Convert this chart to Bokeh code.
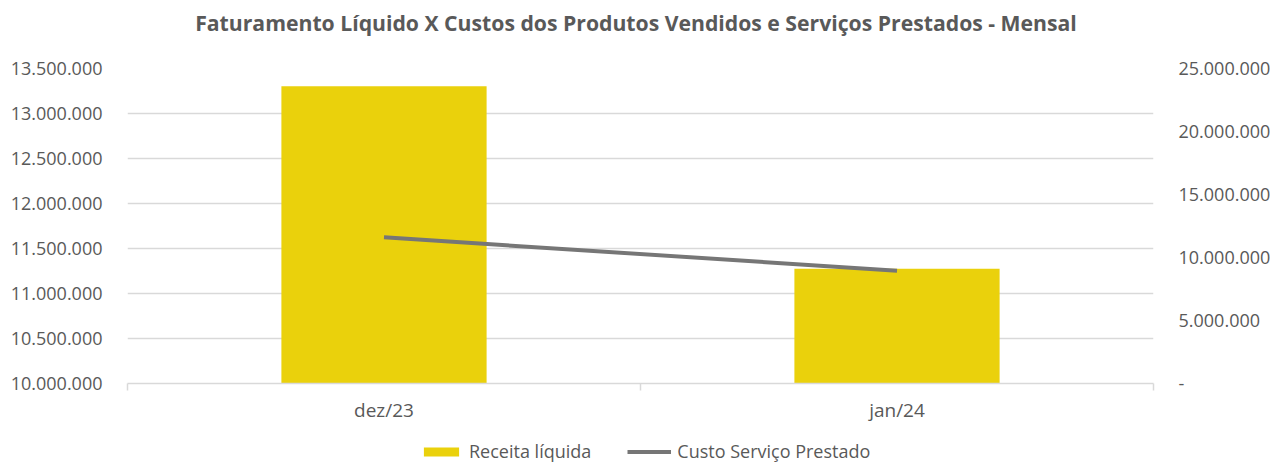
from bokeh.plotting import figure
from bokeh.layouts import column
from bokeh.models import (Range1d, LinearAxis, FixedTicker, CustomJSTickFormatter,
                          ColumnDataSource, Legend, LegendItem, Label)
from bokeh.embed import file_html
from bokeh.resources import INLINE

categories = ["dez/23", "jan/24"]
receita_liquida = [13303000, 11275000]
custo_servico = [11600000, 8950000]
left_ticks = [10000000, 10500000, 11000000, 11500000, 12000000, 12500000, 13000000, 13500000]
right_ticks = [0, 5000000, 10000000, 15000000, 20000000, 25000000]
series_names = ["Receita líquida", "Custo Serviço Prestado"]
title_text = "Faturamento  Líquido X Custos dos Produtos Vendidos e Serviços Prestados  - Mensal"

FONT = "Open Sans"
TXT = "#595959"
BAR_COLOR = "#EAD10C"
LINE_COLOR = "#767676"
W = 1275
BL, BR = 127, 122
FW, FH = W - BL - BR, 315
TITLE_H, LEG_H = 45, 28


def bare_figure(height):
    # strips share the chart's left/right borders (column aligns them)
    f = figure(width=W, height=height, output_backend="svg", toolbar_location=None,
               x_range=Range1d(0, FW), y_range=Range1d(0, height),
               x_axis_type=None, y_axis_type=None, min_border=0,
               min_border_left=BL, min_border_right=BR,
               outline_line_color=None)
    f.grid.visible = False
    return f


# ---- title strip
tf = bare_figure(TITLE_H)
tf.add_layout(Label(x=FW / 2 + 1, y=TITLE_H / 2 + 1, text=title_text,
                    text_align="center", text_baseline="middle",
                    text_font=FONT, text_font_size="21.2px", text_font_style="bold",
                    text_color=TXT))

# ---- main chart
xs = list(range(len(categories)))
src = ColumnDataSource(dict(x=xs, receita=receita_liquida, custo=custo_servico))

p = figure(frame_width=FW, frame_height=FH, output_backend="svg", toolbar_location=None,
           x_range=Range1d(-0.5, len(categories) - 0.5),
           y_range=Range1d(left_ticks[0], left_ticks[-1]),
           min_border_left=BL, min_border_right=BR, min_border_top=68 - TITLE_H,
           min_border_bottom=53, outline_line_color=None)
p.extra_y_ranges = {"r": Range1d(right_ticks[0], right_ticks[-1])}

fmt = CustomJSTickFormatter(code="""
if (tick == 0) { return '-'; }
return Math.round(tick).toString().replace(/\\B(?=(\\d{3})+(?!\\d))/g, '.');
""")

p.vbar(x="x", top="receita", bottom=left_ticks[0], width=0.4, source=src,
       fill_color=BAR_COLOR, line_color=None)
p.line(x="x", y="custo", source=src, y_range_name="r",
       line_color=LINE_COLOR, line_width=4)

ya = p.yaxis[0]
ya.ticker = FixedTicker(ticks=left_ticks)
ya.formatter = fmt
ya.axis_line_color = None
ya.major_tick_line_color = None
ya.minor_tick_line_color = None
ya.major_tick_out = 0
ya.minor_tick_out = 0
ya.major_label_text_font = FONT
ya.major_label_text_font_size = "18px"
ya.major_label_text_color = TXT
ya.major_label_standoff = 25

ra = LinearAxis(y_range_name="r", ticker=FixedTicker(ticks=right_ticks), formatter=fmt)
ra.axis_line_color = None
ra.major_tick_line_color = None
ra.minor_tick_line_color = None
ra.major_tick_out = 0
ra.minor_tick_out = 0
ra.major_label_text_font = FONT
ra.major_label_text_font_size = "18px"
ra.major_label_text_color = TXT
ra.major_label_standoff = 25
p.add_layout(ra, "right")

xa = p.xaxis[0]
xa.ticker = FixedTicker(ticks=xs, minor_ticks=[i - 0.5 for i in range(len(categories) + 1)])
xa.major_label_overrides = {i: c for i, c in enumerate(categories)}
xa.axis_line_color = "#d9d9d9"
xa.axis_line_width = 1.5
xa.major_tick_line_color = None
xa.minor_tick_line_color = "#d9d9d9"
xa.minor_tick_line_width = 1.5
xa.minor_tick_out = 7
xa.minor_tick_in = 0
xa.major_label_text_font = FONT
xa.major_label_text_font_size = "19px"
xa.major_label_text_color = TXT
xa.major_label_standoff = 6

p.xgrid.grid_line_color = None
p.ygrid.grid_line_color = "#d9d9d9"
p.ygrid.grid_line_width = 1.5

# ---- legend strip (proxy glyphs with no drawable data, only for the legend)
lf = bare_figure(LEG_H)
nan = float("nan")
proxy = ColumnDataSource(dict(x=[nan], y=[nan]))
lbar = lf.vbar(x="x", top="y", width=1, source=proxy, fill_color=BAR_COLOR, line_color=None)
lline = lf.line(x="x", y="y", source=proxy, line_color=LINE_COLOR, line_width=4)
legend = Legend(items=[LegendItem(label=series_names[0], renderers=[lbar]),
                       LegendItem(label=series_names[1], renderers=[lline])],
                orientation="horizontal", location=(419 - BL, 1),
                label_text_font=FONT, label_text_font_size="18px", label_text_color=TXT,
                glyph_width=44, glyph_height=11, spacing=36, padding=0, margin=0,
                label_standoff=6, border_line_color=None, background_fill_alpha=0)
lf.add_layout(legend, "center")

layout = column(tf, p, lf, spacing=0)
open("out.html", "w").write(file_html(layout, INLINE))
